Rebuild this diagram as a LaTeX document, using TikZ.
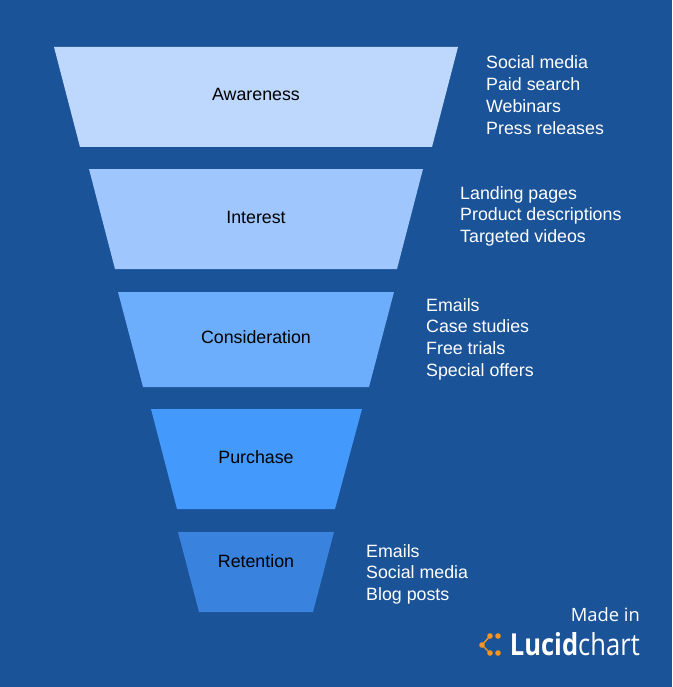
\documentclass[tikz,border=0pt]{standalone}
\usepackage{fontspec}
\usepackage{graphicx}
\setmainfont{Liberation Sans}
\newfontfamily\logofont{Open Sans}
\definecolor{bgblue}{HTML}{1B5398}
\definecolor{awarecol}{HTML}{BDD7FD}
\definecolor{interestcol}{HTML}{A0C7FD}
\definecolor{considcol}{HTML}{6DAEFC}
\definecolor{purchcol}{HTML}{4499FD}
\definecolor{retaincol}{HTML}{3982DE}
\definecolor{lucidorange}{HTML}{F7941D}
\tikzset{
  stage/.style={anchor=base, inner sep=0pt, text=black, font=\fontsize{17.8}{21.7}\selectfont},
  item/.style={anchor=base west, inner sep=0pt, text=white, font=\fontsize{17.8}{21.7}\selectfont},
  logodot/.style={fill=lucidorange}
}
\begin{document}
\begin{tikzpicture}[x=1pt,y=-1pt]
     \fill [bgblue] (0,0) rectangle (672,687);
     \useasboundingbox (0,0) rectangle (672,687);
     % funnel
     \fill [awarecol]    (54,47)   -- (458,47)  -- (432,147) -- (80,147)  -- cycle;
     \fill [interestcol] (89,169)  -- (423,169) -- (397,269) -- (115,269) -- cycle;
     \fill [considcol]   (118,292) -- (394,292) -- (369,387) -- (143,387) -- cycle;
     \fill [purchcol]    (151,409) -- (362,409) -- (335,509) -- (177,509) -- cycle;
     \fill [retaincol]   (178,532) -- (334,532) -- (313,612) -- (199,612) -- cycle;
     \node[stage] (aware)    at (256,101) {Awareness};
     \node[stage] (interest) at (256,223) {Interest};
     \node[stage] (consid)   at (256,343) {Consideration};
     \node[stage] (purch)    at (256,463) {Purchase};
     \node[stage] (retain)   at (256,567) {Retention};
     % channels
     \foreach \t [count=\i] in {Social media, Paid search, Webinars, Press releases}
       \node[item] (aw-\i) at (486,{69+21.7*(\i-1)}) {\t};
     \foreach \t [count=\i] in {Landing pages, Product descriptions, Targeted videos}
       \node[item] (in-\i) at (460,{199+21.7*(\i-1)}) {\t};
     \foreach \t [count=\i] in {Emails, Case studies, Free trials, Special offers}
       \node[item] (co-\i) at (426,{311+21.7*(\i-1)}) {\t};
     \foreach \t [count=\i] in {Emails, Social media, Blog posts}
       \node[item] (re-\i) at (366,{557+21.7*(\i-1)}) {\t};
     % logo
     \node[anchor=base east, inner sep=0pt, text=white, font=\logofont] (madein) at (640,621) {\resizebox{69pt}{!}{Made in}};
     \node[anchor=base east, inner sep=0pt, text=white, font=\logofont] (lucid) at (640,655) {\resizebox{130pt}{23pt}{{\bfseries Lucid}chart}};
     \coordinate (dtop) at (490,636);
     \coordinate (dleft) at (482,645);
     \coordinate (dbot) at (490,653);
     \draw [lucidorange, line width=1.4pt] (dtop) -- (dleft) -- (dbot);
     \foreach \p in {dtop, dleft, dbot}
       \fill [logodot] (\p) circle (2.8);
     \fill [logodot] (498,636) circle (2.8);
     \fill [logodot] (498,653) circle (2.8);
\end{tikzpicture}
\end{document}
